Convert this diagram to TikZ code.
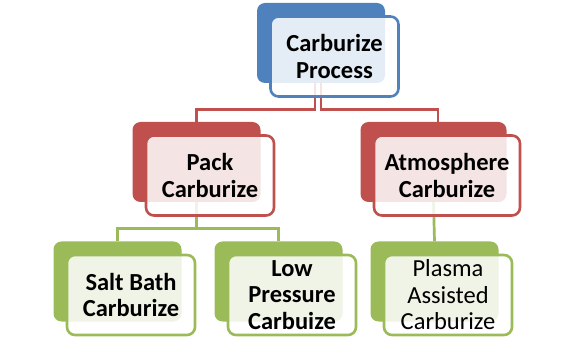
\documentclass[tikz,border=0pt]{standalone}
\usepackage{fontspec}
\setmainfont{Carlito}
\usetikzlibrary{positioning,backgrounds}
\definecolor{blu}{HTML}{4F81BD}
\definecolor{rd}{HTML}{C0504D}
\definecolor{grn}{HTML}{9BBB59}

\begin{document}
\begin{tikzpicture}[x=1pt,y=-1pt,
      bk/.style={rounded corners=8pt,minimum width=128pt,minimum height=80pt,
                 inner sep=0pt},
      fr/.style={bk,fill=white,fill opacity=0.85,text opacity=1,
                 line width=2.6pt,align=center,
                 font=\fontsize{24.5}{26.5}\selectfont\bfseries},
      ln/.style={line width=2.7pt}]
    \useasboundingbox (0,0) rectangle (576,358);
    % top
    \node[bk,fill=blu] (topb) at (321,43) {};
    \node[fr,draw=blu] (top) at ([shift={(13.5,13.5)}]topb.center) {Carburize\\Process};
    % second row
    \node[bk,fill=rd] (packb) at (196.5,162) {};
    \node[fr,draw=rd] (pack) at ([shift={(13.5,13.5)}]packb.center) {Pack\\Carburize};
    \node[bk,fill=rd,minimum width=146pt] (atmb) at (433.5,162) {};
    \node[fr,draw=rd,minimum width=146pt] (atm) at ([shift={(13.5,13.5)}]atmb.center)
      {Atmosphere\\Carburize};
    % third row
    \node[bk,fill=grn] (saltb) at (117.5,281.5) {};
    \node[fr,draw=grn] (salt) at ([shift={(13.5,13.5)}]saltb.center) {Salt Bath\\Carburize};
    \node[bk,fill=grn] (lowb) at (278.5,281.5) {};
    \node[fr,draw=grn] (low) at ([shift={(13.5,13.5)}]lowb.center) {Low\\Pressure\\Carbuize};
    \node[bk,fill=grn] (plab) at (434.5,281.5) {};
    \node[fr,draw=grn,font=\fontsize{24.5}{26.5}\selectfont] (pla)
      at ([shift={(13.5,13.5)}]plab.center) {Plasma\\Assisted\\Carburize};

    \begin{scope}[on background layer]
      \draw[ln,rd] ([xshift=-6pt]topb.south) -- ++(0,26) -| (packb.north);
      \draw[ln,rd] (topb.south) -- ++(0,26) -| ([xshift=4.5pt]atmb.north);
      \draw[ln,grn] (packb.south) -- ++(0,26) -| (saltb.north);
      \draw[ln,grn] (packb.south) -- ++(0,26) -| (lowb.north);
      \draw[ln,grn] (atmb.south) -- (plab.north);
    \end{scope}
  \end{tikzpicture}
\end{document}
